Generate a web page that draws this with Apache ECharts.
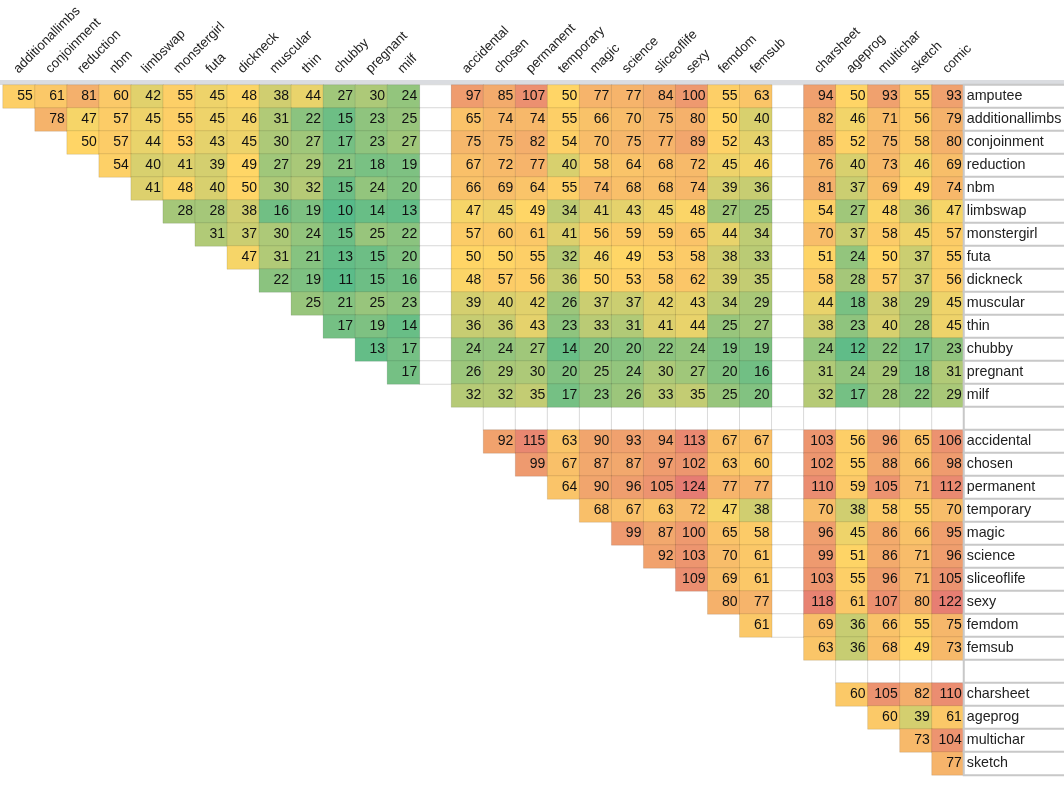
<!DOCTYPE html>
<html>
<head>
<meta charset="utf-8">
<title>tag overlap</title>
<script src="https://cdn.jsdelivr.net/npm/echarts@6/dist/echarts.min.js"></script>
<style>
  html, body { margin: 0; padding: 0; background: #fff; }
  #main { width: 1064px; height: 796px; }
</style>
</head>
<body>
<div id="main"></div>
<script>
// tag groups, in sheet order
var groupA = ['amputee', 'additionallimbs', 'conjoinment', 'reduction', 'nbm', 'limbswap', 'monstergirl', 'futa', 'dickneck', 'muscular', 'thin', 'chubby', 'pregnant', 'milf'];
var groupB = ['accidental', 'chosen', 'permanent', 'temporary', 'magic', 'science', 'sliceoflife', 'sexy', 'femdom', 'femsub'];
var groupC = ['charsheet', 'ageprog', 'multichar', 'sketch', 'comic'];

// one row per tag: counts against every later tag (left to right, gaps skipped)
var amputee         = [55, 61, 81, 60, 42, 55, 45, 48, 38, 44, 27, 30, 24,  97, 85, 107, 50, 77, 77, 84, 100, 55, 63,  94, 50, 93, 55, 93];
var additionallimbs = [78, 47, 57, 45, 55, 45, 46, 31, 22, 15, 23, 25,  65, 74, 74, 55, 66, 70, 75, 80, 50, 40,  82, 46, 71, 56, 79];
var conjoinment     = [50, 57, 44, 53, 43, 45, 30, 27, 17, 23, 27,  75, 75, 82, 54, 70, 75, 77, 89, 52, 43,  85, 52, 75, 58, 80];
var reduction       = [54, 40, 41, 39, 49, 27, 29, 21, 18, 19,  67, 72, 77, 40, 58, 64, 68, 72, 45, 46,  76, 40, 73, 46, 69];
var nbm             = [41, 48, 40, 50, 30, 32, 15, 24, 20,  66, 69, 64, 55, 74, 68, 68, 74, 39, 36,  81, 37, 69, 49, 74];
var limbswap        = [28, 28, 38, 16, 19, 10, 14, 13,  47, 45, 49, 34, 41, 43, 45, 48, 27, 25,  54, 27, 48, 36, 47];
var monstergirl     = [31, 37, 30, 24, 15, 25, 22,  57, 60, 61, 41, 56, 59, 59, 65, 44, 34,  70, 37, 58, 45, 57];
var futa            = [47, 31, 21, 13, 15, 20,  50, 50, 55, 32, 46, 49, 53, 58, 38, 33,  51, 24, 50, 37, 55];
var dickneck        = [22, 19, 11, 15, 16,  48, 57, 56, 36, 50, 53, 58, 62, 39, 35,  58, 28, 57, 37, 56];
var muscular        = [25, 21, 25, 23,  39, 40, 42, 26, 37, 37, 42, 43, 34, 29,  44, 18, 38, 29, 45];
var thin            = [17, 19, 14,  36, 36, 43, 23, 33, 31, 41, 44, 25, 27,  38, 23, 40, 28, 45];
var chubby          = [13, 17,  24, 24, 27, 14, 20, 20, 22, 24, 19, 19,  24, 12, 22, 17, 23];
var pregnant        = [17,  26, 29, 30, 20, 25, 24, 30, 27, 20, 16,  31, 24, 29, 18, 31];
var milf            = [32, 32, 35, 17, 23, 26, 33, 35, 25, 20,  32, 17, 28, 22, 29];
var accidental      = [92, 115, 63, 90, 93, 94, 113, 67, 67,  103, 56, 96, 65, 106];
var chosen          = [99, 67, 87, 87, 97, 102, 63, 60,  102, 55, 88, 66, 98];
var permanent       = [64, 90, 96, 105, 124, 77, 77,  110, 59, 105, 71, 112];
var temporary       = [68, 67, 63, 72, 47, 38,  70, 38, 58, 55, 70];
var magic           = [99, 87, 100, 65, 58,  96, 45, 86, 66, 95];
var science         = [92, 103, 70, 61,  99, 51, 86, 71, 96];
var sliceoflife     = [109, 69, 61,  103, 55, 96, 71, 105];
var sexy            = [80, 77,  118, 61, 107, 80, 122];
var femdom          = [61,  69, 36, 66, 55, 75];
var femsub          = [63, 36, 68, 49, 73];
var charsheet       = [60, 105, 82, 110];
var ageprog         = [60, 39, 61];
var multichar       = [73, 104];
var sketch          = [77];

var rowValues = [amputee, additionallimbs, conjoinment, reduction, nbm, limbswap, monstergirl, futa, dickneck,
    muscular, thin, chubby, pregnant, milf, accidental, chosen, permanent, temporary, magic, science,
    sliceoflife, sexy, femdom, femsub, charsheet, ageprog, multichar, sketch];

// sheet layout: groups separated by one empty row/column
var slots = groupA.concat([null], groupB, [null], groupC);
var rows = slots.slice(0, slots.length - 1);
var cols = slots.slice(1);

function slotOf(k) {
    if (k < groupA.length) return k;
    if (k < groupA.length + groupB.length) return k + 1;
    return k + 2;
}

var cells = [];
var all = [];
for (var k = 0; k < rowValues.length; k++) {
    for (var i = 0; i < rowValues[k].length; i++) {
        var v = rowValues[k][i];
        cells.push([slotOf(k + 1 + i) - 1, slotOf(k), v]);
        all.push(v);
    }
}

// empty cells of the spacer row/columns that still show gridlines
var blanks = [];
for (var r = 0; r < rows.length; r++) {
    for (var c = 0; c < cols.length; c++) {
        if (c > r && (rows[r] === null || cols[c] === null)) blanks.push([c, r, 0]);
    }
}

// green - yellow - red scale (min / median / max)
var sorted = all.slice().sort(function (a, b) { return a - b; });
var vMin = sorted[0], vMax = sorted[sorted.length - 1];
var pos = (sorted.length - 1) * 0.5;
var vMid = sorted[Math.floor(pos)] + (sorted[Math.ceil(pos)] - sorted[Math.floor(pos)]) * (pos - Math.floor(pos));
var cLo = [87, 187, 138], cMid = [255, 214, 102], cHi = [230, 124, 115];

function mix(a, b, t) {
    return 'rgb(' + Math.round(a[0] + (b[0] - a[0]) * t) + ',' +
        Math.round(a[1] + (b[1] - a[1]) * t) + ',' +
        Math.round(a[2] + (b[2] - a[2]) * t) + ')';
}
function colorFor(v) {
    if (v <= vMid) return mix(cLo, cMid, (v - vMin) / (vMid - vMin));
    return mix(cMid, cHi, (v - vMid) / (vMax - vMid));
}

var font = 'Liberation Sans, Arial, sans-serif';
var rowKeys = rows.map(function (d, i) { return d === null ? 'gap' + i : d; });

var myChart = echarts.init(document.getElementById('main'));
var option = {
    animation: false,
    backgroundColor: '#fff',
    graphic: [
        { type: 'rect', shape: { x: 0, y: 80, width: 1064, height: 5 }, style: { fill: '#dadce0' }, silent: true }
    ],
    grid: [
        { left: 3, top: 85, width: 961, height: 690, outerBoundsMode: 'none', containLabel: false },
        { left: 964, top: 85, width: 103, height: 690, outerBoundsMode: 'none', containLabel: false }
    ],
    xAxis: [
        {
            type: 'category',
            gridIndex: 0,
            position: 'top',
            data: cols.map(function (d) { return d === null ? '' : d; }),
            axisLine: { show: false },
            axisTick: { show: false },
            splitLine: { show: false },
            axisLabel: {
                interval: 0,
                rotate: -45,
                margin: 17,
                padding: [0, 0, 0, -4.5],
                fontSize: 13.3,
                fontFamily: font,
                color: '#222'
            }
        },
        { type: 'category', gridIndex: 1, data: [''], show: false }
    ],
    yAxis: [
        { type: 'category', gridIndex: 0, inverse: true, data: rowKeys, show: false },
        { type: 'category', gridIndex: 1, inverse: true, data: rowKeys, show: false }
    ],
    series: [
        {
            type: 'heatmap',
            xAxisIndex: 0,
            yAxisIndex: 0,
            data: blanks,
            silent: true,
            itemStyle: { color: '#fff', borderColor: '#dadada', borderWidth: 1 },
            label: { show: false },
            emphasis: { disabled: true }
        },
        {
            type: 'heatmap',
            xAxisIndex: 0,
            yAxisIndex: 0,
            data: cells.map(function (d) {
                return { value: d, itemStyle: { color: colorFor(d[2]) } };
            }),
            itemStyle: { borderColor: 'rgba(0,0,0,0.1)', borderWidth: 1 },
            label: {
                show: true,
                position: 'insideRight',
                distance: 3,
                fontSize: 14,
                fontFamily: font,
                color: '#111',
                formatter: function (p) { return p.value[2]; }
            },
            emphasis: { disabled: true }
        },
        {
            // row names column
            type: 'heatmap',
            xAxisIndex: 1,
            yAxisIndex: 1,
            data: rows.map(function (d, i) { return [0, i, 0]; }),
            silent: true,
            itemStyle: { color: '#fff', borderColor: '#c8c8c8', borderWidth: 2 },
            label: {
                show: true,
                position: 'insideLeft',
                distance: 4,
                fontSize: 14.3,
                fontFamily: font,
                color: '#222',
                formatter: function (p) { return rows[p.value[1]] || ''; }
            },
            emphasis: { disabled: true }
        }
    ]
};
myChart.setOption(option);
</script>
</body>
</html>
